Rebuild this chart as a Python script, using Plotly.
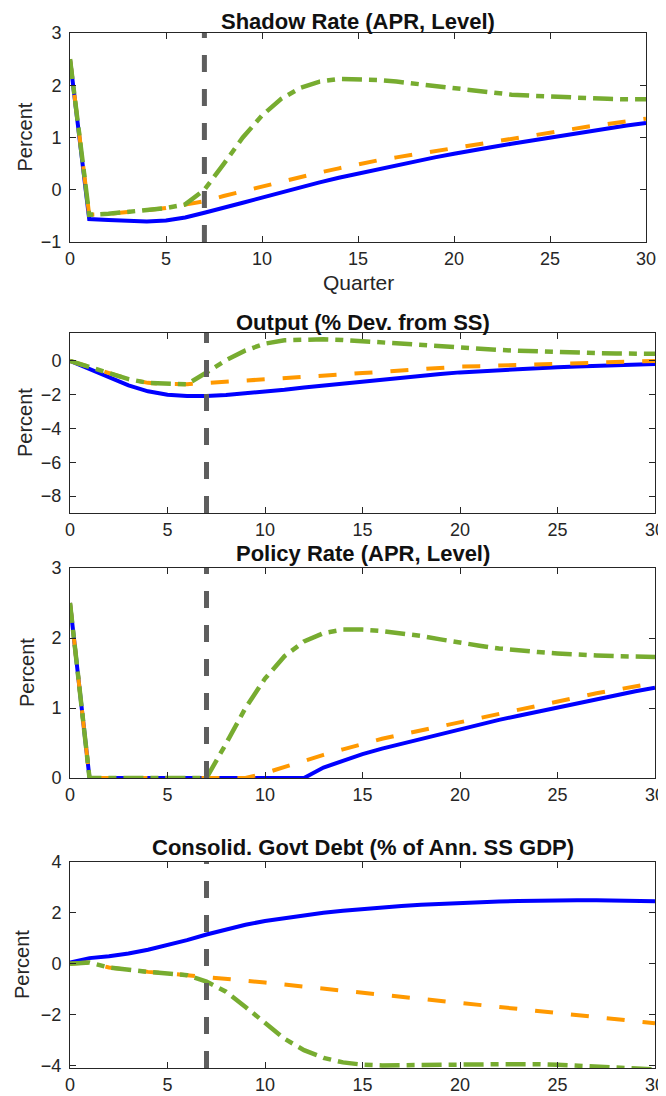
import plotly.graph_objects as go

# ---------------- data ----------------
quarters = list(range(31))
x_ticks = [0, 5, 10, 15, 20, 25, 30]
crossing_quarter = 7

shadow_blue = [2.5, -0.56, -0.58, -0.60, -0.61, -0.59, -0.53, -0.44, -0.35, -0.25, -0.15,
               -0.05, 0.05, 0.14, 0.23, 0.31, 0.39, 0.47, 0.55, 0.62, 0.69,
               0.76, 0.82, 0.88, 0.94, 1.00, 1.06, 1.12, 1.18, 1.23, 1.28]
shadow_orange = [2.5, -0.48, -0.46, -0.43, -0.39, -0.35, -0.28, -0.22, -0.12, -0.03, 0.07,
                 0.16, 0.25, 0.33, 0.41, 0.49, 0.56, 0.62, 0.68, 0.74, 0.80,
                 0.86, 0.92, 0.98, 1.04, 1.10, 1.16, 1.21, 1.26, 1.31, 1.36]
shadow_green = [2.5, -0.48, -0.46, -0.43, -0.39, -0.35, -0.28, 0.0, 0.49, 1.00, 1.42,
                1.74, 1.95, 2.07, 2.12, 2.12, 2.10, 2.07, 2.03, 1.98, 1.93,
                1.89, 1.85, 1.82, 1.80, 1.78, 1.76, 1.75, 1.74, 1.73, 1.73]

output_blue = [0.0, -0.50, -1.00, -1.45, -1.80, -2.00, -2.08, -2.08, -2.02, -1.93, -1.83,
               -1.71, -1.58, -1.46, -1.33, -1.20, -1.08, -0.97, -0.87, -0.77, -0.68,
               -0.61, -0.54, -0.48, -0.42, -0.37, -0.33, -0.29, -0.25, -0.22, -0.19]
output_orange = [0.0, -0.37, -0.75, -1.08, -1.30, -1.37, -1.38, -1.31, -1.27, -1.20, -1.13,
                 -1.05, -0.97, -0.89, -0.80, -0.72, -0.64, -0.56, -0.48, -0.41, -0.34,
                 -0.31, -0.27, -0.24, -0.20, -0.17, -0.14, -0.10, -0.07, -0.03, 0.0]
output_green = [0.0, -0.37, -0.75, -1.08, -1.30, -1.37, -1.38, -0.69, 0.04, 0.62, 1.02,
                1.22, 1.28, 1.28, 1.24, 1.16, 1.08, 1.00, 0.92, 0.84, 0.77,
                0.71, 0.65, 0.60, 0.55, 0.51, 0.48, 0.46, 0.44, 0.43, 0.42]

policy_blue = [2.5, 0, 0, 0, 0, 0, 0, 0, 0, 0, 0,
               0, 0, 0.15, 0.25, 0.34, 0.42, 0.49, 0.56, 0.63, 0.70,
               0.77, 0.83, 0.89, 0.95, 1.01, 1.07, 1.13, 1.19, 1.24, 1.29]
policy_orange = [2.5, 0, 0, 0, 0, 0, 0, 0, 0, 0, 0.07,
                 0.16, 0.25, 0.33, 0.41, 0.49, 0.56, 0.62, 0.68, 0.74, 0.80,
                 0.86, 0.92, 0.98, 1.04, 1.10, 1.16, 1.21, 1.26, 1.31, 1.36]
policy_green = [2.5, 0, 0, 0, 0, 0, 0, 0, 0.49, 1.00, 1.42,
                1.74, 1.95, 2.07, 2.12, 2.12, 2.10, 2.07, 2.03, 1.98, 1.93,
                1.89, 1.85, 1.82, 1.80, 1.78, 1.76, 1.75, 1.74, 1.73, 1.73]

debt_blue = [0.05, 0.22, 0.29, 0.40, 0.55, 0.72, 0.93, 1.15, 1.35, 1.53, 1.68,
             1.80, 1.91, 2.00, 2.08, 2.15, 2.21, 2.27, 2.32, 2.36, 2.40,
             2.43, 2.45, 2.47, 2.49, 2.50, 2.50, 2.50, 2.49, 2.48, 2.46]
debt_orange = [0.0, 0.05, -0.15, -0.25, -0.32, -0.38, -0.45, -0.50, -0.58, -0.66, -0.74,
               -0.82, -0.90, -0.98, -1.06, -1.14, -1.22, -1.30, -1.38, -1.46, -1.54,
               -1.62, -1.70, -1.78, -1.86, -1.94, -2.02, -2.10, -2.18, -2.26, -2.34]
debt_green = [0.0, 0.05, -0.15, -0.25, -0.32, -0.38, -0.45, -0.70, -1.10, -1.70, -2.35,
              -2.95, -3.40, -3.70, -3.88, -3.97, -4.00, -4.00, -3.99, -3.98, -3.97,
              -3.96, -3.95, -3.94, -3.95, -3.97, -4.00, -4.04, -4.08, -4.12, -4.16]

titles = ["Shadow Rate (APR, Level)", "Output (% Dev. from SS)",
          "Policy Rate (APR, Level)", "Consolid. Govt Debt (% of Ann. SS GDP)"]
y_label = "Percent"
x_label = "Quarter"
y_tickvals = [[-1, 0, 1, 2, 3], [-8, -6, -4, -2, 0], [0, 1, 2, 3], [-4, -2, 0, 2, 4]]
y_ranges = [[-1, 3], [-9, 1.65], [0, 3], [-4.1, 4]]

series = [
    (shadow_blue, shadow_orange, shadow_green),
    (output_blue, output_orange, output_green),
    (policy_blue, policy_orange, policy_green),
    (debt_blue, debt_orange, debt_green),
]

# ---------------- layout geometry (page pixels) ----------------
PAGE_W, PAGE_H = 666, 1096
OFF = 8  # default body margin of the html page
W, H = PAGE_W - OFF, PAGE_H - OFF


def fx(px):
    return (px - OFF) / W


def fy(py):
    return 1 - (py - OFF) / H


# (left, right, top, bottom, title_y, percent_x)
boxes = [
    (70, 646, 33, 242, 21, 24),
    (70, 655, 333, 513, 322, 25),
    (70, 655, 568, 778, 553, 27),
    (70, 655, 862, 1068, 847, 22),
]

BLUE = "#0000FF"
ORANGE = "#FF9900"
GREEN = "#77AC30"
GRAY = "#5E5E5E"
AXIS = "#262626"
FONT = "Liberation Sans, Arial, sans-serif"

fig = go.Figure()
layout = dict(width=W, height=H, margin=dict(l=0, r=0, t=0, b=0, pad=0),
              paper_bgcolor="white", plot_bgcolor="white", showlegend=False)
annotations = []
shapes = []

for i, (box, (b, o, g)) in enumerate(zip(boxes, series)):
    left, right, top, bottom, ty, px = box
    n = "" if i == 0 else str(i + 1)
    xa, ya = "x" + n, "y" + n
    common = dict(showline=True, linecolor=AXIS, linewidth=1, mirror="ticks",
                  ticks="inside", ticklen=6, tickcolor=AXIS, tickwidth=1,
                  showgrid=False, zeroline=False, automargin=False,
                  tickfont=dict(family=FONT, size=18, color=AXIS))
    layout["xaxis" + n] = dict(domain=[fx(left), fx(right)], anchor=ya,
                               range=[0, 30], tickvals=x_ticks, ticklabelstandoff=0,
                               **common)
    layout["yaxis" + n] = dict(domain=[fy(bottom), fy(top)], anchor=xa,
                               range=y_ranges[i], tickvals=y_tickvals[i],
                               ticklabelstandoff=4, **common)
    fig.add_trace(go.Scatter(x=quarters, y=b, mode="lines", xaxis=xa, yaxis=ya,
                             line=dict(color=BLUE, width=4)))
    fig.add_trace(go.Scatter(x=quarters, y=o, mode="lines", xaxis=xa, yaxis=ya,
                             line=dict(color=ORANGE, width=4, dash="18px,18px")))
    fig.add_trace(go.Scatter(x=quarters, y=g, mode="lines", xaxis=xa, yaxis=ya,
                             line=dict(color=GREEN, width=4.5, dash="20px,7px,8px,7px")))
    shapes.append(dict(type="line", xref=xa, yref=ya + " domain",
                       x0=crossing_quarter, x1=crossing_quarter, y0=0, y1=1,
                       line=dict(color=GRAY, width=5, dash="17px,17px"), layer="above"))
    annotations.append(dict(text="<b>" + titles[i] + "</b>", xref="paper", yref="paper",
                            x=fx((left + right) / 2), y=fy(ty),
                            xanchor="center", yanchor="middle", showarrow=False,
                            font=dict(family=FONT, size=22, color="#111111")))
    annotations.append(dict(text=y_label, xref="paper", yref="paper",
                            x=fx(px), y=fy((top + bottom) / 2), textangle=-90,
                            xanchor="center", yanchor="middle", showarrow=False,
                            font=dict(family=FONT, size=20, color=AXIS)))

annotations.append(dict(text=x_label, xref="paper", yref="paper",
                        x=fx((70 + 646) / 2), y=fy(283),
                        xanchor="center", yanchor="middle", showarrow=False,
                        font=dict(family=FONT, size=21, color=AXIS)))

layout["annotations"] = annotations
layout["shapes"] = shapes
fig.update_layout(**layout)
fig.write_html("out.html")
